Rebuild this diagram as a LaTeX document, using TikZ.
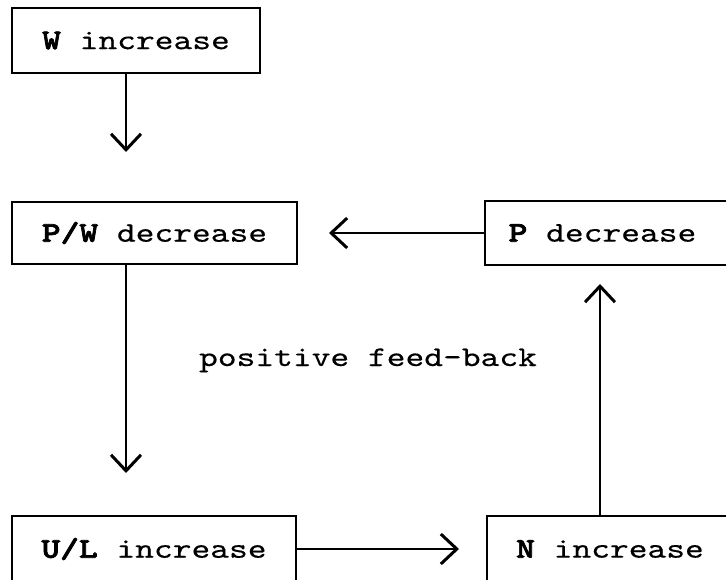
\documentclass[tikz,border=0pt]{standalone}
\usepackage{fontspec}
\setmonofont{lmmono10-regular.otf}[BoldFont=lmmonolt10-bold.otf, FakeStretch=1.25, FakeBold=0.3, BoldFeatures={FakeBold=2.5}]
\usetikzlibrary{arrows.meta}
\begin{document}
\begin{tikzpicture}[x=1pt,y=-1pt,
  box/.style={draw, line width=1.4pt, inner sep=0pt, font=\ttfamily\fontsize{28.6}{34}\selectfont},
  link/.style={line width=1.5pt, -{Straight Barb[length=16pt,width=30pt,line width=3pt]}},
  lbl/.style={font=\ttfamily\fontsize{28.6}{34}\selectfont, inner sep=0pt}]
\clip (0,0) rectangle (726,580);
\fill[white] (0,0) rectangle (726,580);
\node[box, minimum width=248pt, minimum height=65pt] (w) at (136,40.5) {\textbf{W} increase};
\node[box, minimum width=285pt, minimum height=62pt] (pw) at (154.5,233) {\textbf{P/W} decrease};
\node[box, minimum width=275pt, minimum height=64pt] (p) at (622.5,233) {\textbf{P} decrease\rule{40pt}{0pt}};
\node[box, minimum width=284pt, minimum height=66pt] (ul) at (154,549) {\textbf{U/L} increase};
\node[box, minimum width=275pt, minimum height=66pt] (n) at (624.5,549) {\textbf{N} increase\rule{29pt}{0pt}};
\node[lbl, anchor=base] (fb) at (368,366) {positive feed-back};
\coordinate (t1) at (126,152);
\coordinate (t2) at (126,473);
\coordinate (t3) at (329,233);
\coordinate (t4) at (459,549);
\coordinate (t5) at (600,284);
\draw[link] (w.south -| t1) -- (t1);
\draw[link] (pw.south -| t2) -- (t2);
\draw[link] (p.west) -- (t3);
\draw[link] (ul.east) -- (t4);
\draw[link] (n.north -| t5) -- (t5);
\end{tikzpicture}
\end{document}
